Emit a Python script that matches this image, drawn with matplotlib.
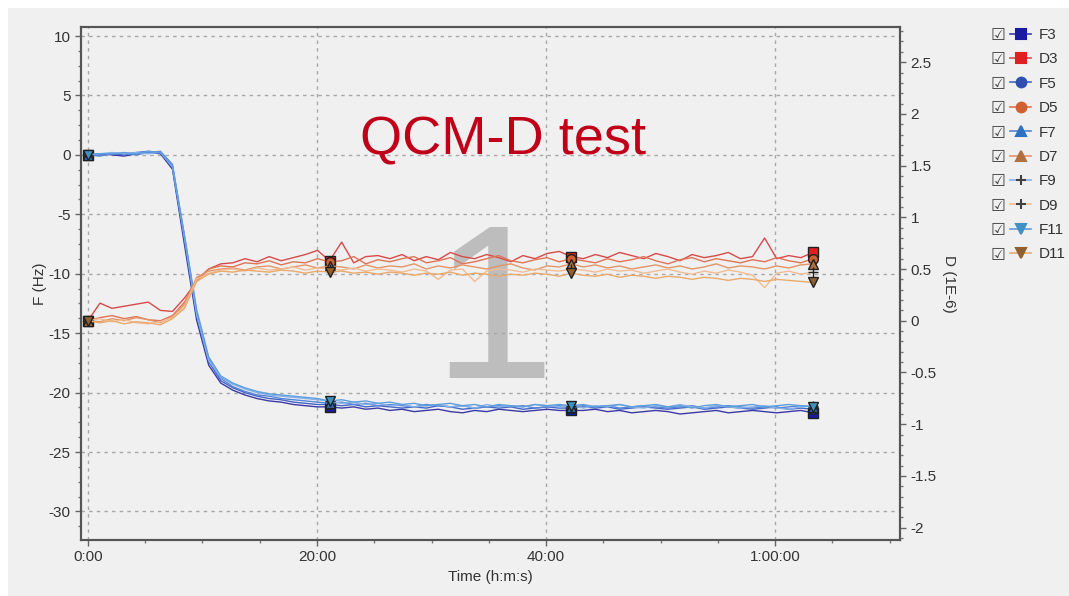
import matplotlib
matplotlib.use("Agg")
import matplotlib.pyplot as plt
from matplotlib.lines import Line2D
from matplotlib.ticker import MultipleLocator, AutoMinorLocator, FuncFormatter
from matplotlib.patches import Rectangle
import numpy as np

# sample interval of the instrument (minutes) and number of samples
dt_min = 1.055
n_pts = 61
t = np.arange(n_pts) * dt_min

# frequency shifts (Hz)
F3 = [0.0, 0.1, 0.0, -0.1, 0.1, 0.2, 0.1, -1.2, -7.6, -13.9, -17.7, -19.2, -19.8, -20.2, -20.5, -20.7, -20.8, -21.0, -21.1, -21.2, -21.2,
      -21.3, -21.2, -21.4, -21.3, -21.5, -21.4, -21.6, -21.5, -21.4, -21.6, -21.7, -21.5, -21.6, -21.4, -21.5, -21.6, -21.5, -21.4, -21.5, -21.5,
      -21.5, -21.4, -21.6, -21.5, -21.7, -21.6, -21.5, -21.6, -21.8, -21.7, -21.6, -21.5, -21.7, -21.6, -21.5, -21.6, -21.7, -21.6, -21.5, -21.7]
F5 = [0.0, 0.0, 0.1, 0.0, 0.2, 0.3, 0.2, -1.0, -7.2, -13.5, -17.4, -19.0, -19.6, -20.0, -20.3, -20.5, -20.6, -20.8, -20.9, -21.0, -21.0,
      -21.1, -21.0, -21.2, -21.1, -21.2, -21.3, -21.2, -21.3, -21.1, -21.2, -21.4, -21.3, -21.2, -21.3, -21.2, -21.4, -21.3, -21.2, -21.3, -21.3,
      -21.2, -21.3, -21.2, -21.4, -21.3, -21.2, -21.3, -21.4, -21.3, -21.2, -21.4, -21.3, -21.2, -21.3, -21.4, -21.3, -21.2, -21.4, -21.3, -21.4]
F7 = [0.0, -0.1, 0.1, 0.1, 0.0, 0.2, 0.3, -0.8, -6.9, -13.2, -17.2, -18.8, -19.5, -19.9, -20.2, -20.3, -20.5, -20.6, -20.7, -20.8, -20.9,
      -20.8, -21.0, -20.9, -21.1, -21.0, -21.1, -21.2, -21.0, -21.1, -21.2, -21.1, -21.3, -21.2, -21.1, -21.2, -21.1, -21.3, -21.2, -21.1, -21.2,
      -21.1, -21.2, -21.1, -21.3, -21.2, -21.1, -21.2, -21.3, -21.2, -21.1, -21.3, -21.2, -21.1, -21.2, -21.3, -21.2, -21.3, -21.2, -21.1, -21.2]
F9 = [0.0, 0.1, 0.2, 0.1, 0.2, 0.1, 0.2, -1.0, -7.0, -13.4, -17.3, -18.7, -19.3, -19.7, -20.0, -20.2, -20.3, -20.4, -20.5, -20.6, -20.7,
      -20.9, -20.8, -21.0, -20.9, -21.1, -21.0, -21.2, -21.1, -21.0, -21.2, -21.1, -21.3, -21.0, -21.2, -21.1, -21.2, -21.0, -21.1, -21.2, -21.1,
      -21.3, -21.1, -21.2, -21.0, -21.2, -21.3, -21.1, -21.2, -21.0, -21.2, -21.3, -21.1, -21.2, -21.3, -21.2, -21.1, -21.3, -21.4, -21.2, -21.1]
F11 = [0.0, 0.1, 0.1, 0.2, 0.1, 0.3, 0.2, -0.9, -6.8, -13.0, -17.0, -18.6, -19.2, -19.6, -19.9, -20.1, -20.2, -20.3, -20.4, -20.5, -20.7,
       -20.6, -20.8, -20.7, -20.9, -20.8, -21.0, -20.9, -21.1, -21.0, -20.9, -21.1, -21.0, -21.2, -21.0, -21.1, -21.2, -21.0, -21.1, -21.0, -21.1,
       -21.0, -21.2, -21.1, -21.0, -21.2, -21.1, -21.0, -21.2, -21.1, -21.3, -21.1, -21.0, -21.2, -21.1, -21.0, -21.2, -21.1, -21.0, -21.1, -21.2]

# dissipation shifts (1E-6)
D3 = [0.00, 0.17, 0.12, 0.14, 0.16, 0.18, 0.10, 0.09, 0.22, 0.38, 0.50, 0.55, 0.56, 0.60, 0.57, 0.62, 0.58, 0.61, 0.64, 0.68, 0.58,
      0.76, 0.56, 0.62, 0.63, 0.60, 0.64, 0.58, 0.62, 0.59, 0.66, 0.62, 0.60, 0.64, 0.61, 0.57, 0.63, 0.60, 0.65, 0.67, 0.62,
      0.60, 0.64, 0.61, 0.66, 0.63, 0.60, 0.65, 0.62, 0.58, 0.64, 0.61, 0.63, 0.66, 0.60, 0.62, 0.80, 0.60, 0.63, 0.61, 0.66]
D5 = [0.00, 0.03, 0.05, 0.02, 0.04, 0.01, 0.00, 0.05, 0.18, 0.40, 0.50, 0.53, 0.52, 0.56, 0.55, 0.58, 0.54, 0.57, 0.56, 0.60, 0.57,
      0.58, 0.62, 0.55, 0.59, 0.57, 0.60, 0.62, 0.56, 0.58, 0.61, 0.55, 0.57, 0.60, 0.63, 0.58, 0.56, 0.59, 0.61, 0.57, 0.60,
      0.58, 0.56, 0.60, 0.57, 0.59, 0.62, 0.58, 0.55, 0.59, 0.61, 0.57, 0.60, 0.58, 0.56, 0.59, 0.57, 0.61, 0.58, 0.56, 0.60]
D7 = [0.00, -0.01, 0.02, 0.00, 0.03, 0.01, -0.02, 0.04, 0.16, 0.42, 0.48, 0.50, 0.51, 0.49, 0.52, 0.53, 0.50, 0.52, 0.54, 0.51, 0.53,
      0.52, 0.50, 0.54, 0.51, 0.53, 0.52, 0.55, 0.50, 0.53, 0.51, 0.54, 0.52, 0.50, 0.53, 0.55, 0.51, 0.49, 0.53, 0.52, 0.55,
      0.52, 0.54, 0.51, 0.53, 0.50, 0.52, 0.54, 0.51, 0.53, 0.50, 0.52, 0.55, 0.51, 0.53, 0.52, 0.50, 0.53, 0.51, 0.54, 0.55]
D9 = [0.00, 0.02, -0.01, 0.01, -0.02, -0.03, -0.01, 0.03, 0.14, 0.40, 0.46, 0.49, 0.50, 0.48, 0.51, 0.49, 0.50, 0.52, 0.49, 0.51, 0.50,
      0.49, 0.51, 0.48, 0.50, 0.49, 0.47, 0.50, 0.48, 0.40, 0.49, 0.50, 0.38, 0.48, 0.50, 0.49, 0.47, 0.50, 0.49, 0.48, 0.50,
      0.49, 0.47, 0.50, 0.48, 0.49, 0.46, 0.48, 0.50, 0.47, 0.45, 0.48, 0.46, 0.49, 0.47, 0.44, 0.32, 0.46, 0.48, 0.45, 0.47]
D11 = [0.00, -0.02, 0.00, -0.03, -0.01, -0.02, -0.04, 0.02, 0.12, 0.38, 0.45, 0.48, 0.47, 0.49, 0.48, 0.47, 0.49, 0.48, 0.46, 0.48, 0.47,
       0.48, 0.46, 0.47, 0.45, 0.47, 0.46, 0.44, 0.46, 0.45, 0.47, 0.44, 0.46, 0.45, 0.43, 0.45, 0.44, 0.46, 0.45, 0.43, 0.46,
       0.44, 0.43, 0.45, 0.42, 0.44, 0.43, 0.41, 0.43, 0.42, 0.40, 0.42, 0.41, 0.39, 0.41, 0.40, 0.38, 0.40, 0.39, 0.38, 0.37]

labels = ["F3", "D3", "F5", "D5", "F7", "D7", "F9", "D9", "F11", "D11"]
series = [F3, D3, F5, D5, F7, D7, F9, D9, F11, D11]
markers = ["s", "s", "o", "o", "^", "^", "+", "+", "v", "v"]
line_cols = ["#3b3aa6", "#d84a4a", "#4566c8", "#e07454", "#5585d8", "#e39566",
             "#86b2ea", "#f2bc94", "#5f9edc", "#e9aa6c"]
mark_cols = ["#1a1aa0", "#e02020", "#3050b0", "#d06030", "#3070c0", "#b07040",
             "#404040", "#404040", "#4090c0", "#906030"]
mark_idx = [0, 20, 40, 60]

plt.rcParams['font.family'] = ['Liberation Sans', 'DejaVu Sans']
plt.rcParams['axes.unicode_minus'] = False
W, H = 1069, 596
fig = plt.figure(figsize=(W / 100, H / 100), dpi=100, facecolor="white")
fig.patches.append(Rectangle((8 / W, 0), 1, (H - 8) / H, transform=fig.transFigure,
                             facecolor="#f0f0f0", edgecolor="none", zorder=-10))

ax = fig.add_axes([81 / W, 1 - 540 / H, 819 / W, 513 / H])
ax.set_facecolor("#f0f0f0")
ax2 = ax.twinx()

for lab, y, m, lc, mc in zip(labels, series, markers, line_cols, mark_cols):
    target = ax if lab.startswith("F") else ax2
    target.plot(t, y, color=lc, lw=1.0, marker=m, markevery=mark_idx, ms=7,
                mfc=mc, mec="#202020", mew=1.0, zorder=3)

ax.set_xlim(-0.6, 70.9)
ax.set_ylim(-32.4, 10.76)
ax2.set_ylim(-2.12, 2.84)

ax.xaxis.set_major_locator(MultipleLocator(20))
ax.xaxis.set_minor_locator(MultipleLocator(5))
ax.yaxis.set_major_locator(MultipleLocator(5))
ax.yaxis.set_minor_locator(AutoMinorLocator(4))
ax2.yaxis.set_major_locator(MultipleLocator(0.5))
ax2.yaxis.set_minor_locator(AutoMinorLocator(5))


def fmt_time(v, pos):
    m = int(round(v))
    if m >= 60:
        return f"{m // 60}:{m % 60:02d}:00"
    return f"{m}:00"


ax.xaxis.set_major_formatter(FuncFormatter(fmt_time))
ax2.yaxis.set_major_formatter(FuncFormatter(lambda v, p: f"{v:g}"))

ax.grid(True, which="major", color="#a8a8a8", ls=(0, (2.5, 3)), lw=1.0)
ax.set_axisbelow(True)

for a in (ax, ax2):
    for s in a.spines.values():
        s.set_color("#555555")
        s.set_linewidth(1.5)
    a.tick_params(which="major", length=4, width=1, color="#666666",
                  labelsize=11, labelcolor="#333333")
    a.tick_params(which="minor", length=2, width=1, color="#777777")

ax.set_xlabel("Time (h:m:s)", fontsize=11, color="#333333", labelpad=4)
ax.set_ylabel("F (Hz)", fontsize=11, color="#333333", labelpad=1)
ax2.set_ylabel("D (1E-6)", fontsize=11, color="#333333", rotation=-90, labelpad=14)

# watermark and title
ax.text(0.503, (540 - 378) / 513, "1", transform=ax.transAxes, fontsize=158, color="#bdbdbd",
        ha="center", va="baseline", zorder=0.3)
fig.text(503 / W, 1 - 155 / H, "QCM-D test", fontsize=39, color="#c00018",
         ha="center", va="baseline")

# legend
handles = [Line2D([], [], color=lc, lw=1.2, marker=m, ms=7, mfc=mc, mec=mc, mew=1.5)
           for m, lc, mc in zip(markers, line_cols, mark_cols)]
leg = fig.legend(handles, labels, loc="upper left", bbox_to_anchor=(1010 / W, 1 - 28 / H),
                 frameon=False, fontsize=11, handlelength=1.4, handletextpad=0.45,
                 labelspacing=0.68, borderaxespad=0, borderpad=0)
for txt in leg.get_texts():
    txt.set_color("#333333")

fig.canvas.draw()
for txt in leg.get_texts():
    bb = txt.get_window_extent()
    fig.text(998 / W, (bb.y0 + bb.y1) / 2 / H, "\u2611", family="DejaVu Sans",
             fontsize=12, color="#444444", ha="center", va="center")

fig.savefig("out.png", dpi=100, facecolor=fig.get_facecolor())
